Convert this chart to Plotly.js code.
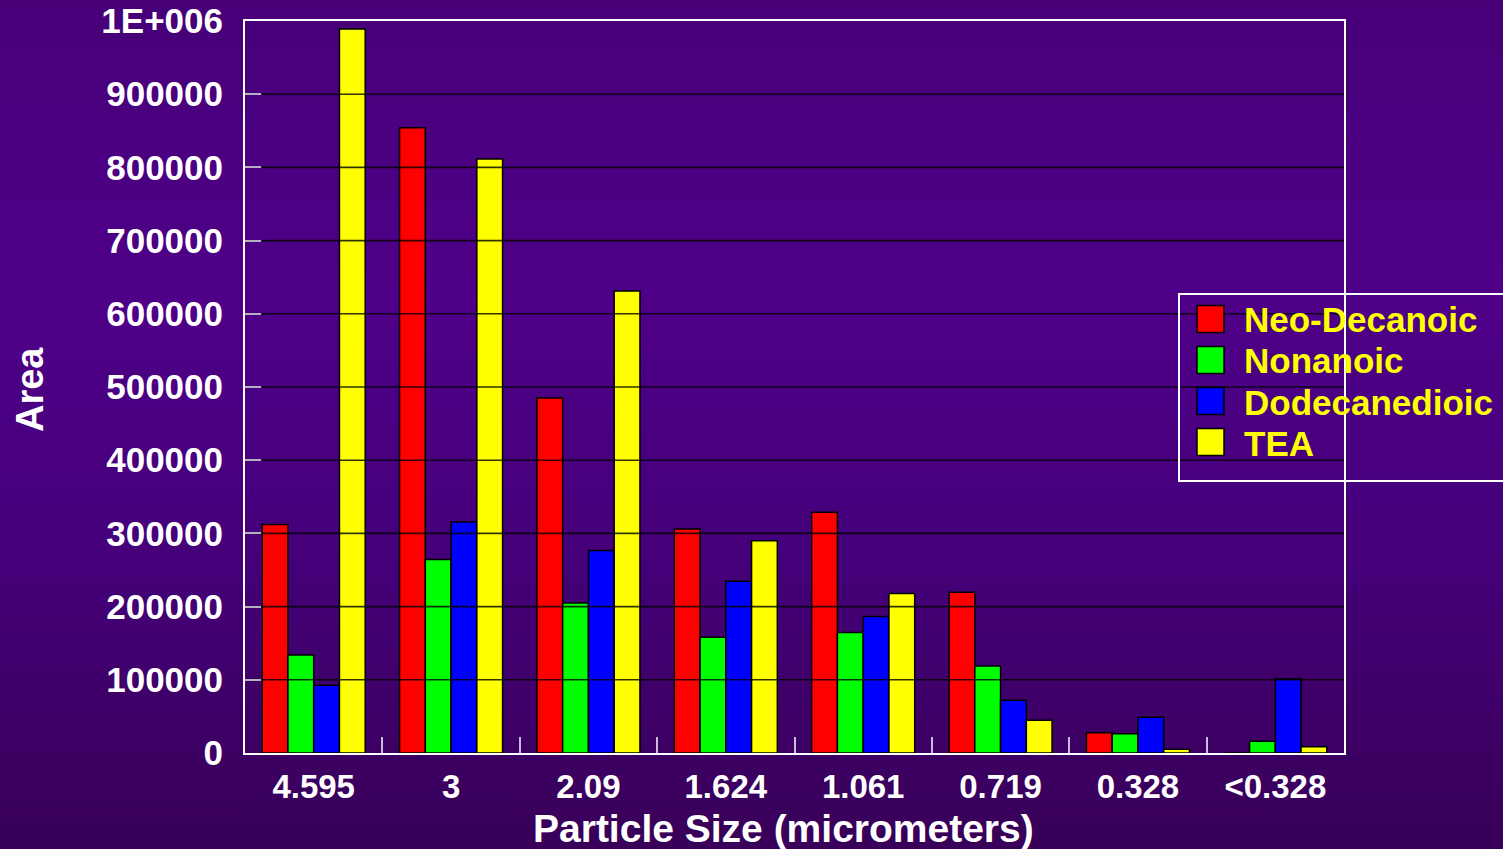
<!DOCTYPE html>
<html>
<head>
<meta charset="utf-8">
<script src="https://cdn.plot.ly/plotly-3.0.1.min.js"></script>
<style>
  html, body { margin: 0; padding: 0; }
  body {
    width: 1503px; height: 849px; overflow: hidden;
    background: linear-gradient(to bottom, #470078 0%, #4e0088 35%, #45007a 65%, #380058 100%);
  }
  #chart { width: 1503px; height: 849px; }
</style>
</head>
<body>
<div id="chart"></div>
<script>
// Particle size bins (micrometers)
const categories = ["4.595", "3", "2.09", "1.624", "1.061", "0.719", "0.328", "<0.328"];

// Peak area per compound in each size bin
const neoDecanoic   = [312000, 854000, 485000, 306000, 329000, 219500, 27700, 0];
const nonanoic      = [134000, 264500, 205000, 158000, 164500, 119000, 26400, 16000];
const dodecanedioic = [92500, 315500, 276500, 234500, 186500, 72000, 49000, 101500];
const tea           = [989000, 811500, 631000, 290000, 218000, 44700, 5000, 8600];

const seriesNames  = ["Neo-Decanoic", "Nonanoic", "Dodecanedioic", "TEA"];
const seriesColors = ["#ff0000", "#00ff00", "#0000ff", "#ffff00"];
const seriesValues = [neoDecanoic, nonanoic, dodecanedioic, tea];

// Y axis ticks
const yTickVals = [0, 100000, 200000, 300000, 400000, 500000, 600000, 700000, 800000, 900000, 1000000];
const yTickText = ["0", "100000", "200000", "300000", "400000", "500000", "600000", "700000", "800000", "900000", "1E+006"];

const xTitle = "Particle Size (micrometers)";
const yTitle = "Area";

const FONT = '"Liberation Sans", Arial, Helvetica, sans-serif';

const traces = seriesNames.map((name, i) => ({
  type: 'bar',
  name: name,
  x: categories,
  y: seriesValues[i],
  marker: { color: seriesColors[i], line: { color: '#000000', width: 1.5 } },
  hoverinfo: 'x+y+name'
}));

// Plot-area geometry in pixels (used for paper-coordinate placement)
const W = 1503, H = 849;
const M = { l: 245, r: 159, t: 21, b: 96 };
const PW = W - M.l - M.r, PH = H - M.t - M.b;
const px = v => (v - M.l) / PW;
const py = v => (H - M.b - v) / PH;

const shapes = [];
// horizontal grid lines drawn over the bars
yTickVals.slice(1, -1).forEach(v => {
  shapes.push({
    type: 'line', xref: 'paper', yref: 'y',
    x0: px(262), x1: 1, y0: v, y1: v,
    line: { color: 'rgba(0,0,0,0.8)', width: 1.6 },
    layer: 'above'
  });
});

// legend frame
shapes.push({
  type: 'rect', xref: 'paper', yref: 'paper',
  x0: px(1179), x1: px(1510), y0: py(481), y1: py(294),
  line: { color: '#ffffff', width: 2 },
  fillcolor: 'rgba(0,0,0,0)',
  layer: 'above'
});

const annotations = [];
const rowCenters = [319, 360, 401, 442];
seriesNames.forEach((name, i) => {
  const c = rowCenters[i];
  shapes.push({
    type: 'rect', xref: 'paper', yref: 'paper',
    x0: px(1197), x1: px(1224), y0: py(c + 13.5), y1: py(c - 13.5),
    line: { color: '#000000', width: 1.5 },
    fillcolor: seriesColors[i],
    layer: 'above'
  });
  annotations.push({
    xref: 'paper', yref: 'paper',
    x: px(1242), y: py(c + 1),
    xanchor: 'left', yanchor: 'middle',
    text: name, showarrow: false,
    font: { family: FONT, size: 35, color: '#ffff00', weight: 'bold' }
  });
});

// axis titles
annotations.push({
  xref: 'paper', yref: 'paper',
  x: px(783), y: py(828),
  xanchor: 'center', yanchor: 'middle',
  text: xTitle, showarrow: false,
  font: { family: FONT, size: 39, color: '#ffffff', weight: 'bold' }
});
annotations.push({
  xref: 'paper', yref: 'paper',
  x: px(30), y: py(390),
  xanchor: 'center', yanchor: 'middle',
  textangle: -90,
  text: yTitle, showarrow: false,
  font: { family: FONT, size: 38, color: '#ffffff', weight: 'bold' }
});

const layout = {
  width: W, height: H,
  margin: M,
  paper_bgcolor: 'rgba(0,0,0,0)',
  plot_bgcolor: 'rgba(0,0,0,0)',
  barmode: 'group',
  bargap: 0.25,
  bargroupgap: 0,
  showlegend: false,
  font: { family: FONT, color: '#ffffff', weight: 'bold' },
  xaxis: {
    type: 'category',
    categoryorder: 'array',
    categoryarray: categories,
    tickson: 'boundaries',
    ticks: 'inside',
    ticklen: 16,
    tickwidth: 2,
    tickcolor: '#c8bcdc',
    showgrid: false,
    showline: true,
    linecolor: '#ffffff',
    linewidth: 2,
    mirror: true,
    tickfont: { family: FONT, size: 33, color: '#ffffff', weight: 'bold' },
    ticklabelstandoff: 3,
    automargin: false,
    fixedrange: true
  },
  yaxis: {
    range: [0, 1000000],
    tickmode: 'array',
    tickvals: yTickVals,
    ticktext: yTickText,
    ticks: 'inside',
    ticklen: 16,
    tickwidth: 2,
    tickcolor: '#b4b0bc',
    showgrid: false,
    zeroline: false,
    showline: true,
    linecolor: '#ffffff',
    linewidth: 2,
    mirror: true,
    tickfont: { family: FONT, size: 35, color: '#ffffff', weight: 'bold' },
    ticklabelstandoff: 13,
    automargin: false,
    fixedrange: true
  },
  shapes: shapes,
  annotations: annotations
};

Plotly.newPlot('chart', traces, layout, { displayModeBar: false, staticPlot: true });
</script>
</body>
</html>
